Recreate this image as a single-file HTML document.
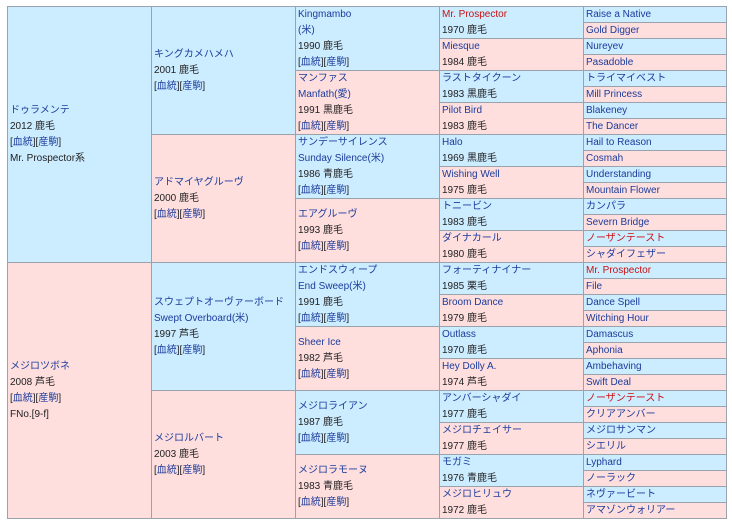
<!DOCTYPE html>
<html><head><meta charset="utf-8"><style>
html,body{margin:0;padding:0;background:#fff;width:732px;height:524px;overflow:hidden}
.c{position:absolute;box-sizing:border-box;border:1px solid #9aa3ad;display:flex;flex-direction:column;justify-content:center;padding-left:2px;font-family:"Liberation Sans","Noto Sans CJK JP",sans-serif;font-size:10px;line-height:16px;color:#222;white-space:nowrap;overflow:hidden}
.b{background:#ccecff}.p{background:#ffdede}
a{color:#1a3c9c;text-decoration:none}
.r{color:#cc1111}
</style></head><body>
<!-- gen1 -->
<div class="c b" style="left:7px;top:6px;width:145px;height:257px"><a>ドゥラメンテ</a><div>2012 鹿毛</div><div>[<a>血統</a>][<a>産駒</a>]</div><div>Mr. Prospector系</div></div>
<div class="c p" style="left:7px;top:262px;width:145px;height:257px"><a>メジロツボネ</a><div>2008 芦毛</div><div>[<a>血統</a>][<a>産駒</a>]</div><div>FNo.[9-f]</div></div>
<!-- gen2 -->
<div class="c b" style="left:151px;top:6px;width:145px;height:129px"><a>キングカメハメハ</a><div>2001 鹿毛</div><div>[<a>血統</a>][<a>産駒</a>]</div></div>
<div class="c p" style="left:151px;top:134px;width:145px;height:129px"><a>アドマイヤグルーヴ</a><div>2000 鹿毛</div><div>[<a>血統</a>][<a>産駒</a>]</div></div>
<div class="c b" style="left:151px;top:262px;width:145px;height:129px"><a>スウェプトオーヴァーボード</a><a>Swept Overboard(米)</a><div>1997 芦毛</div><div>[<a>血統</a>][<a>産駒</a>]</div></div>
<div class="c p" style="left:151px;top:390px;width:145px;height:129px"><a>メジロルバート</a><div>2003 鹿毛</div><div>[<a>血統</a>][<a>産駒</a>]</div></div>
<!-- gen3 -->
<div class="c b" style="left:295px;top:6px;width:145px;height:65px"><a>Kingmambo</a><a>(米)</a><div>1990 鹿毛</div><div>[<a>血統</a>][<a>産駒</a>]</div></div>
<div class="c p" style="left:295px;top:70px;width:145px;height:65px"><a>マンファス</a><a>Manfath(愛)</a><div>1991 黒鹿毛</div><div>[<a>血統</a>][<a>産駒</a>]</div></div>
<div class="c b" style="left:295px;top:134px;width:145px;height:65px"><a>サンデーサイレンス</a><a>Sunday Silence(米)</a><div>1986 青鹿毛</div><div>[<a>血統</a>][<a>産駒</a>]</div></div>
<div class="c p" style="left:295px;top:198px;width:145px;height:65px"><a>エアグルーヴ</a><div>1993 鹿毛</div><div>[<a>血統</a>][<a>産駒</a>]</div></div>
<div class="c b" style="left:295px;top:262px;width:145px;height:65px"><a>エンドスウィープ</a><a>End Sweep(米)</a><div>1991 鹿毛</div><div>[<a>血統</a>][<a>産駒</a>]</div></div>
<div class="c p" style="left:295px;top:326px;width:145px;height:65px"><a>Sheer Ice</a><div>1982 芦毛</div><div>[<a>血統</a>][<a>産駒</a>]</div></div>
<div class="c b" style="left:295px;top:390px;width:145px;height:65px"><a>メジロライアン</a><div>1987 鹿毛</div><div>[<a>血統</a>][<a>産駒</a>]</div></div>
<div class="c p" style="left:295px;top:454px;width:145px;height:65px"><a>メジロラモーヌ</a><div>1983 青鹿毛</div><div>[<a>血統</a>][<a>産駒</a>]</div></div>
<!-- gen4 -->
<div class="c b" style="left:439px;top:6px;width:145px;height:33px"><a class="r">Mr. Prospector</a><div>1970 鹿毛</div></div>
<div class="c p" style="left:439px;top:38px;width:145px;height:33px"><a>Miesque</a><div>1984 鹿毛</div></div>
<div class="c b" style="left:439px;top:70px;width:145px;height:33px"><a>ラストタイクーン</a><div>1983 黒鹿毛</div></div>
<div class="c p" style="left:439px;top:102px;width:145px;height:33px"><a>Pilot Bird</a><div>1983 鹿毛</div></div>
<div class="c b" style="left:439px;top:134px;width:145px;height:33px"><a>Halo</a><div>1969 黒鹿毛</div></div>
<div class="c p" style="left:439px;top:166px;width:145px;height:33px"><a>Wishing Well</a><div>1975 鹿毛</div></div>
<div class="c b" style="left:439px;top:198px;width:145px;height:33px"><a>トニービン</a><div>1983 鹿毛</div></div>
<div class="c p" style="left:439px;top:230px;width:145px;height:33px"><a>ダイナカール</a><div>1980 鹿毛</div></div>
<div class="c b" style="left:439px;top:262px;width:145px;height:33px"><a>フォーティナイナー</a><div>1985 栗毛</div></div>
<div class="c p" style="left:439px;top:294px;width:145px;height:33px"><a>Broom Dance</a><div>1979 鹿毛</div></div>
<div class="c b" style="left:439px;top:326px;width:145px;height:33px"><a>Outlass</a><div>1970 鹿毛</div></div>
<div class="c p" style="left:439px;top:358px;width:145px;height:33px"><a>Hey Dolly A.</a><div>1974 芦毛</div></div>
<div class="c b" style="left:439px;top:390px;width:145px;height:33px"><a>アンバーシャダイ</a><div>1977 鹿毛</div></div>
<div class="c p" style="left:439px;top:422px;width:145px;height:33px"><a>メジロチェイサー</a><div>1977 鹿毛</div></div>
<div class="c b" style="left:439px;top:454px;width:145px;height:33px"><a>モガミ</a><div>1976 青鹿毛</div></div>
<div class="c p" style="left:439px;top:486px;width:145px;height:33px"><a>メジロヒリュウ</a><div>1972 鹿毛</div></div>
<!-- gen5 -->
<div class="c b" style="left:583px;top:6px;width:144px;height:17px"><a>Raise a Native</a></div>
<div class="c p" style="left:583px;top:22px;width:144px;height:17px"><a>Gold Digger</a></div>
<div class="c b" style="left:583px;top:38px;width:144px;height:17px"><a>Nureyev</a></div>
<div class="c p" style="left:583px;top:54px;width:144px;height:17px"><a>Pasadoble</a></div>
<div class="c b" style="left:583px;top:70px;width:144px;height:17px"><a>トライマイベスト</a></div>
<div class="c p" style="left:583px;top:86px;width:144px;height:17px"><a>Mill Princess</a></div>
<div class="c b" style="left:583px;top:102px;width:144px;height:17px"><a>Blakeney</a></div>
<div class="c p" style="left:583px;top:118px;width:144px;height:17px"><a>The Dancer</a></div>
<div class="c b" style="left:583px;top:134px;width:144px;height:17px"><a>Hail to Reason</a></div>
<div class="c p" style="left:583px;top:150px;width:144px;height:17px"><a>Cosmah</a></div>
<div class="c b" style="left:583px;top:166px;width:144px;height:17px"><a>Understanding</a></div>
<div class="c p" style="left:583px;top:182px;width:144px;height:17px"><a>Mountain Flower</a></div>
<div class="c b" style="left:583px;top:198px;width:144px;height:17px"><a>カンパラ</a></div>
<div class="c p" style="left:583px;top:214px;width:144px;height:17px"><a>Severn Bridge</a></div>
<div class="c b" style="left:583px;top:230px;width:144px;height:17px"><a class="r">ノーザンテースト</a></div>
<div class="c p" style="left:583px;top:246px;width:144px;height:17px"><a>シャダイフェザー</a></div>
<div class="c b" style="left:583px;top:262px;width:144px;height:17px"><a class="r">Mr. Prospector</a></div>
<div class="c p" style="left:583px;top:278px;width:144px;height:17px"><a>File</a></div>
<div class="c b" style="left:583px;top:294px;width:144px;height:17px"><a>Dance Spell</a></div>
<div class="c p" style="left:583px;top:310px;width:144px;height:17px"><a>Witching Hour</a></div>
<div class="c b" style="left:583px;top:326px;width:144px;height:17px"><a>Damascus</a></div>
<div class="c p" style="left:583px;top:342px;width:144px;height:17px"><a>Aphonia</a></div>
<div class="c b" style="left:583px;top:358px;width:144px;height:17px"><a>Ambehaving</a></div>
<div class="c p" style="left:583px;top:374px;width:144px;height:17px"><a>Swift Deal</a></div>
<div class="c b" style="left:583px;top:390px;width:144px;height:17px"><a class="r">ノーザンテースト</a></div>
<div class="c p" style="left:583px;top:406px;width:144px;height:17px"><a>クリアアンバー</a></div>
<div class="c b" style="left:583px;top:422px;width:144px;height:17px"><a>メジロサンマン</a></div>
<div class="c p" style="left:583px;top:438px;width:144px;height:17px"><a>シエリル</a></div>
<div class="c b" style="left:583px;top:454px;width:144px;height:17px"><a>Lyphard</a></div>
<div class="c p" style="left:583px;top:470px;width:144px;height:17px"><a>ノーラック</a></div>
<div class="c b" style="left:583px;top:486px;width:144px;height:17px"><a>ネヴァービート</a></div>
<div class="c p" style="left:583px;top:502px;width:144px;height:17px"><a>アマゾンウォリアー</a></div>
</body></html>
